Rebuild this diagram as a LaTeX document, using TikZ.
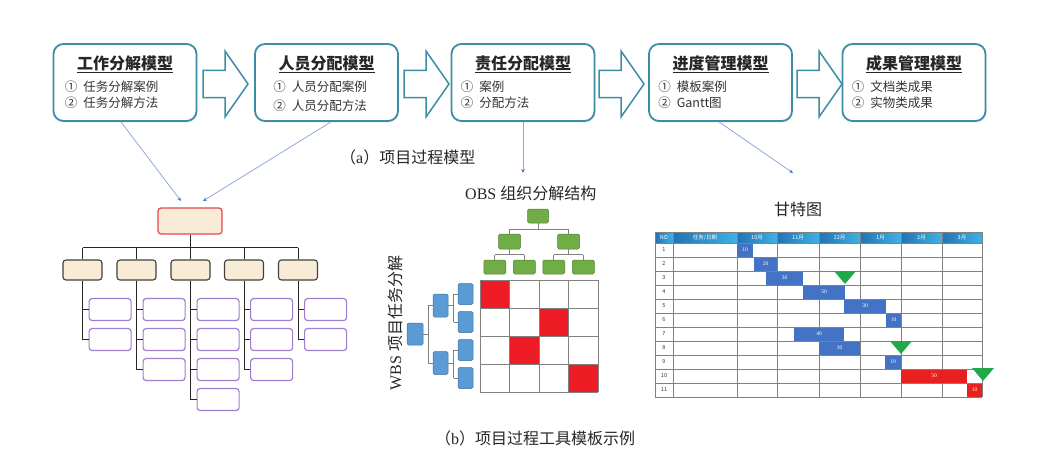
\documentclass[tikz,border=0pt]{standalone}
\usepackage{fontspec}
\setmainfont{Liberation Serif}
\newfontfamily\cjk{Noto Sans CJK SC}
\usetikzlibrary{calc,arrows.meta,shadows}
\definecolor{teal1}{HTML}{3E8DA6}
\definecolor{txt}{HTML}{333333}
\definecolor{lnk}{HTML}{8FAADC}
\definecolor{lnktip}{HTML}{4472C4}
\definecolor{rootred}{HTML}{E8474F}
\definecolor{beige}{HTML}{F8ECD6}
\definecolor{purp}{HTML}{A07FCF}
\definecolor{gfill}{HTML}{70AD47}
\definecolor{gdraw}{HTML}{538135}
\definecolor{bfill}{HTML}{5B9BD5}
\definecolor{bdraw}{HTML}{41719C}
\definecolor{cellred}{HTML}{EE1C25}
\definecolor{gridc}{HTML}{808080}
\definecolor{hdl}{HTML}{2473B3}
\definecolor{hdr}{HTML}{3DB2E6}
\definecolor{barblue}{HTML}{4472C4}
\definecolor{barred}{HTML}{E8201F}
\definecolor{tricol}{HTML}{21A84A}
\newcommand\blockarr[1]{\draw[barr] (#1,70.5) -- ++(22,0) -- ++(0,-19.5) -- ++(23,33) -- ++(-23,33) -- ++(0,-19.5) -- ++(-22,0) -- cycle;}
\begin{document}
\begin{tikzpicture}[x=1pt,y=-1pt,
  mbox/.style={draw=teal1, line width=1.8pt, rounded corners=10pt, fill=white,
    minimum width=143pt, minimum height=77pt, inner sep=0pt,
    drop shadow={opacity=0.15, shadow xshift=1pt, shadow yshift=-1.5pt}},
  ttl/.style={font=\cjk\bfseries\fontsize{16}{18}\selectfont, text=black!85, inner sep=0pt},
  itm/.style={font=\cjk\fontsize{12.5}{14}\selectfont, text=txt, inner sep=0pt, anchor=west},
  barr/.style={draw=teal1, line width=1.5pt, fill=white, line join=miter},
  lnkline/.style={draw=lnk, line width=0.8pt, -{Stealth[length=4pt,width=3.5pt,color=lnktip]}},
  captxt/.style={font=\cjk\fontsize{16}{18}\selectfont, text=black!85, inner sep=0pt},
  rootbox/.style={draw=rootred, line width=1.2pt, fill=beige, rounded corners=3pt, minimum width=64pt, minimum height=26pt, inner sep=0pt},
  lvtwo/.style={draw=black!75, line width=1.1pt, fill=beige, rounded corners=3pt, minimum width=39pt, minimum height=20pt, inner sep=0pt},
  lvthree/.style={draw=purp, line width=1.2pt, fill=white, rounded corners=3pt, minimum width=42pt, minimum height=22pt, inner sep=0pt},
  tline/.style={draw=black!85, line width=0.9pt},
  gbox/.style={draw=gdraw, line width=0.5pt, fill=gfill, rounded corners=1.5pt, minimum width=22pt, minimum height=14pt, inner sep=0pt},
  bbox/.style={draw=bdraw, line width=0.5pt, fill=bfill, rounded corners=1.5pt, minimum width=15pt, minimum height=21pt, inner sep=0pt},
  oline/.style={draw=gridc, line width=0.7pt},
  gline/.style={draw=gridc, line width=0.7pt},
  htxt/.style={font=\cjk\fontsize{5.5}{6}\selectfont, text=white, inner sep=0pt},
  ntxt/.style={font=\cjk\fontsize{5.5}{6}\selectfont, text=black!80, inner sep=0pt},
  btxt/.style={font=\rmfamily\fontsize{5.5}{6}\selectfont, text=white, inner sep=0pt},
]
\useasboundingbox[fill=white] (0,0) rectangle (1041,460);

% ---------- top row ----------
\node[mbox] (b1) at (125,82.5) {};
\node[mbox] (b2) at (326.5,82.5) {};
\node[mbox] (b3) at (523,82.5) {};
\node[mbox] (b4) at (720.5,82.5) {};
\node[mbox] (b5) at (914,82.5) {};

\node[ttl] (t1) at ($(b1.north)+(0,21)$) {\underline{工作分解模型}};
\node[ttl] (t2) at ($(b2.north)+(0,21)$) {\underline{人员分配模型}};
\node[ttl] (t3) at ($(b3.north)+(0,21)$) {\underline{责任分配模型}};
\node[ttl] (t4) at ($(b4.north)+(0,21)$) {\underline{进度管理模型}};
\node[ttl] (t5) at ($(b5.north)+(0,21)$) {\underline{成果管理模型}};

\node[itm] (i11) at ($(b1.north west)+(12,44)$) {①\hspace{6pt}任务分解案例};
\node[itm] (i12) at ($(b1.north west)+(12,60)$) {②\hspace{6pt}任务分解方法};
\node[itm] (i21) at ($(b2.north west)+(19,44)$) {①\hspace{6pt}人员分配案例};
\node[itm] (i22) at ($(b2.north west)+(19,63)$) {②\hspace{6pt}人员分配方法};
\node[itm] (i31) at ($(b3.north west)+(10,44)$) {①\hspace{6pt}案例};
\node[itm] (i32) at ($(b3.north west)+(10,60)$) {②\hspace{6pt}分配方法};
\node[itm] (i41) at ($(b4.north west)+(10,44)$) {①\hspace{6pt}模板案例};
\node[itm] (i42) at ($(b4.north west)+(10,60)$) {②\hspace{6pt}Gantt图};
\node[itm] (i51) at ($(b5.north west)+(10,44)$) {①\hspace{6pt}文档类成果};
\node[itm] (i52) at ($(b5.north west)+(10,60)$) {②\hspace{6pt}实物类成果};

\blockarr{203}
\blockarr{404}
\blockarr{599}
\blockarr{797}

% ---------- caption a ----------
\node[captxt, anchor=west] (capa) at (340,157) {（{\rmfamily a}）项目过程模型};

% ---------- link arrows ----------
\coordinate (e1) at (181,201);
\coordinate (e2) at (203,201);
\coordinate (e3) at (523,173);
\coordinate (e4) at (793,173);
\draw[lnkline] ($(b1.south)+(-4,0)$) -- (e1);
\draw[lnkline] ($(b2.south)+(4.5,0)$) -- (e2);
\draw[lnkline] (b3.south) -- (e3);
\draw[lnkline] ($(b4.south)+(-1.5,0)$) -- (e4);

% ---------- left tree ----------
\node[rootbox] (R) at (190,221) {};
\foreach \i/\x in {1/82.5,2/136.5,3/190.5,4/244,5/298}
  \node[lvtwo] (L\i) at (\x,270) {};
\draw[tline] (R.south) -- ++(0,13) coordinate (bus);
\draw[tline] (L1.north |- bus) -- (L5.north |- bus);
\foreach \i in {1,...,5} \draw[tline] (L\i.north |- bus) -- (L\i.north);
\foreach \i/\n in {1/2,2/3,3/4,4/3,5/2}{
  \foreach \k in {1,...,\n}{
    \pgfmathsetmacro\dy{29+(\k-1)*30}
    \node[lvthree, anchor=west] (P\i\k) at ($(L\i.south)+(6,\dy)$) {};
    \draw[tline] (L\i.south) |- (P\i\k.west);
  }
}

% ---------- OBS / WBS ----------
\node[captxt, anchor=west, font=\fontsize{16}{18}\selectfont] (obs) at (465,193) {OBS {\cjk 组织分解结构}};
\node[captxt, rotate=90, font=\fontsize{16}{18}\selectfont] (wbs) at (395,323) {WBS {\cjk 项目任务分解}};

% matrix
\foreach \c/\r in {0/0,2/1,1/2,3/3}
  \fill[cellred] ({480+\c*29.5},{280+\r*28}) rectangle ++(29.5,28);
\foreach \k in {0,...,4}{
  \draw[gline] ({480+\k*29.5},280) -- ({480+\k*29.5},392);
  \draw[gline] (480,{280+\k*28}) -- (598,{280+\k*28});
}

\node[gbox, minimum width=21pt] (G0) at (538,216) {};
\node[gbox, minimum height=15pt] (G1) at (509.5,241.5) {};
\node[gbox, minimum height=15pt] (G2) at (568.5,241.5) {};
\node[gbox] (G11) at (494.75,267) {};
\node[gbox] (G12) at (524.25,267) {};
\node[gbox] (G21) at (553.75,267) {};
\node[gbox] (G22) at (583.25,267) {};
\draw[oline] (G0.south) -- ++(0,6) coordinate (gb0);
\draw[oline] (G1.north |- gb0) -- (G2.north |- gb0);
\draw[oline] (G1.north |- gb0) -- (G1.north);
\draw[oline] (G2.north |- gb0) -- (G2.north);
\draw[oline] (G1.south) -- ++(0,5.5) coordinate (gb1);
\draw[oline] (G11.north |- gb1) -- (G12.north |- gb1);
\draw[oline] (G11.north |- gb1) -- (G11.north);
\draw[oline] (G12.north |- gb1) -- (G12.north);
\draw[oline] (G2.south) -- ++(0,5.5) coordinate (gb2);
\draw[oline] (G21.north |- gb2) -- (G22.north |- gb2);
\draw[oline] (G21.north |- gb2) -- (G21.north);
\draw[oline] (G22.north |- gb2) -- (G22.north);

\node[bbox, minimum width=16pt, minimum height=22pt] (W0) at (415,334) {};
\node[bbox, minimum height=23pt] (W1) at (440.5,305.5) {};
\node[bbox, minimum height=23pt] (W2) at (440.5,363) {};
\node[bbox] (W11) at (465.5,294) {};
\node[bbox] (W12) at (465.5,322) {};
\node[bbox] (W21) at (465.5,350) {};
\node[bbox] (W22) at (465.5,378) {};
\draw[oline] (W0.east) -- ++(5,0) coordinate (wb0);
\draw[oline] (wb0 |- W1.west) -- (wb0 |- W2.west);
\draw[oline] (wb0 |- W1.west) -- (W1.west);
\draw[oline] (wb0 |- W2.west) -- (W2.west);
\draw[oline] (W1.east) -- ++(5.5,0) coordinate (wb1);
\draw[oline] (wb1 |- W11.west) -- (wb1 |- W12.west);
\draw[oline] (wb1 |- W11.west) -- (W11.west);
\draw[oline] (wb1 |- W12.west) -- (W12.west);
\draw[oline] (W2.east) -- ++(5.5,0) coordinate (wb2);
\draw[oline] (wb2 |- W21.west) -- (wb2 |- W22.west);
\draw[oline] (wb2 |- W21.west) -- (W21.west);
\draw[oline] (wb2 |- W22.west) -- (W22.west);

% ---------- Gantt ----------
\node[captxt] (gtitle) at (798,209) {甘特图};
% header
\foreach \a/\b in {655/673,673/737,737/777,777/819,819/860,860/901,901/942,942/982}{
  \shade[left color=hdl, right color=hdr] (\a,232) rectangle (\b,243);
}
\foreach \a/\b/\t in {655/673/NO,673/737/{任务/日期},737/777/10月,777/819/11月,819/860/12月,860/901/1月,901/942/2月,942/982/3月}{
  \node[htxt] at ({(\a+\b)/2},237.5) {\t};
}
% grid
\foreach \x in {655,673,737,777,819,860,901,942,982}
  \draw[gline] (\x,232) -- (\x,397);
\foreach \r in {0,...,11}
  \draw[gline] (655,{243+\r*14}) -- (982,{243+\r*14});
\draw[gline] (655,232) -- (982,232);
\foreach \r in {1,...,11}
  \node[ntxt] at (664,{236+\r*14}) {\r};
% bars
\foreach \r/\a/\b/\t in {1/737/753/10,2/754/777/20,3/766/803/30,4/803/845/50,5/844/886/30,6/886/901/10,7/794/844/40,8/819/860/30,9/885/901/10}{
  \fill[barblue] (\a,{229.5+\r*14}) rectangle (\b,{242.5+\r*14});
  \node[btxt] at ({(\a+\b)/2},{236+\r*14}) {\t};
}
\foreach \r/\a/\b/\t in {10/901/967/50,11/967/982/10}{
  \fill[barred] (\a,{229.5+\r*14}) rectangle (\b,{242.5+\r*14});
  \node[btxt] at ({(\a+\b)/2},{236+\r*14}) {\t};
}
% milestones
\foreach \x/\y in {845/271,901/341,983/368}
  \fill[tricol] ({\x-11},\y) -- ({\x+11},\y) -- (\x,{\y+13}) -- cycle;

% ---------- caption b ----------
\node[captxt, anchor=west] (capb) at (435,438) {（{\rmfamily b}）项目过程工具模板示例};
\end{tikzpicture}
\end{document}
